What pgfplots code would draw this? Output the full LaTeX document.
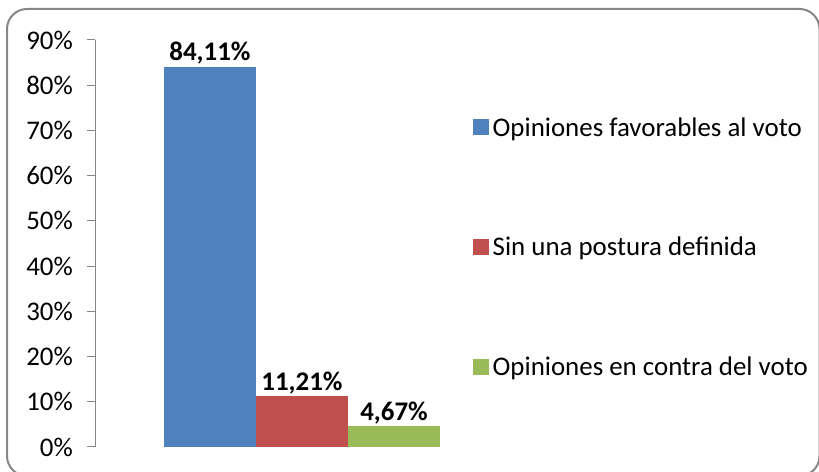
\documentclass[border=0pt]{standalone}
\usepackage{pgfplots}
\pgfplotsset{compat=1.18}
\usepackage{fontspec}
\setmainfont{Carlito}
\definecolor{barblue}{HTML}{4F81BD}
\definecolor{barred}{HTML}{C0504D}
\definecolor{bargreen}{HTML}{9BBB59}
\definecolor{framegray}{HTML}{868686}
\newcommand{\bigfont}{\fontsize{27}{32}\selectfont}

\begin{document}
\begin{tikzpicture}[x=1bp,y=1bp]
\useasboundingbox (0,0) rectangle (819,472);
% rounded chart frame, partly cut at the bottom and right
\draw[framegray, line width=2bp, rounded corners=20bp] (7,463) rectangle (819.5,-4);
\begin{axis}[
  at={(95bp,25bp)}, anchor=south west,
  scale only axis, width=414bp, height=407bp,
  xmin=0, xmax=4.5, ymin=0, ymax=90,
  axis x line=none,
  axis y line=left,
  y axis line style={-, draw=framegray, line width=1bp},
  ytick={0,10,...,90},
  yticklabel={\pgfmathprintnumber{\tick}\%},
  tick align=outside,
  major tick length=8bp,
  tick style={draw=framegray, line width=1bp},
  yticklabel style={font=\bigfont, inner sep=0pt, xshift=-14bp, text=black},
  /pgf/number format/assume math mode=true,
  ybar, bar width=1, bar shift=0pt,
  nodes near coords,
  point meta=explicit symbolic,
  every node near coord/.append style={font=\bfseries\bigfont, text=black, inner sep=2bp},
  legend image code/.code={\fill[#1] (0bp,-8bp) rectangle (16bp,8bp);},
  legend cell align=left,
  legend style={draw=none, fill=none, at={(0.913,0.819)}, anchor=north west,
    font=\bigfont, inner sep=0pt, row sep=92.5bp,
    nodes={inner sep=3.5bp}},
]
\addplot[fill=barblue, draw=none] coordinates {(1.25,84.11) [84,11\%]};
\addlegendentry{Opiniones favorables al voto}
\addplot[fill=barred, draw=none] coordinates {(2.25,11.21) [11,21\%]};
\addlegendentry{Sin una postura definida}
\addplot[fill=bargreen, draw=none] coordinates {(3.25,4.67) [4,67\%]};
\addlegendentry{Opiniones en contra del voto}
\end{axis}
\end{tikzpicture}
\end{document}
